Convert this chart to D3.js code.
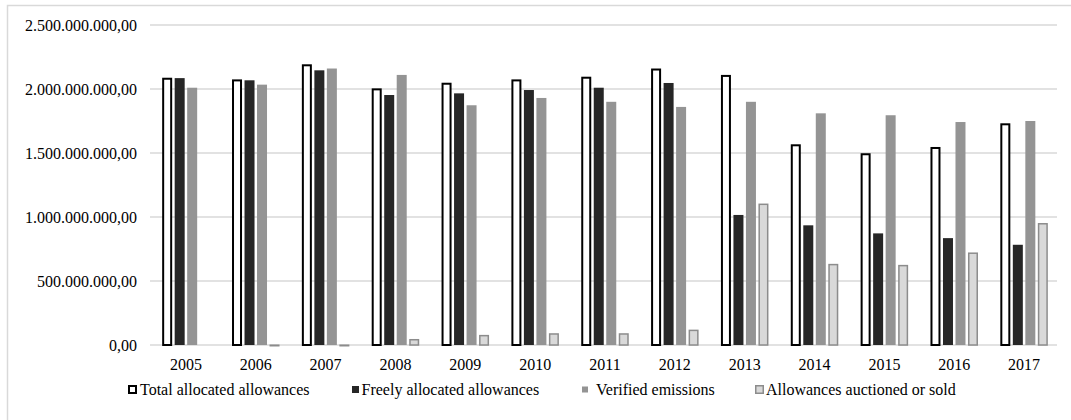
<!DOCTYPE html>
<html>
<head>
<meta charset="utf-8">
<script src="https://cdn.jsdelivr.net/npm/d3@7"></script>
<style>
  html, body { margin: 0; padding: 0; background: #fff; }
  svg { display: block; }
  svg text { font-family: 'Liberation Serif', 'DejaVu Serif', 'Times New Roman', Times, serif !important; }
</style>
</head>
<body>
<svg id="chart" width="1071" height="420"></svg>
<script>
// ---- data ----
const years = ["2005","2006","2007","2008","2009","2010","2011","2012","2013","2014","2015","2016","2017"];
const totalAllocated = [2.088e9, 2.075e9, 2.193e9, 2.005e9, 2.049e9, 2.075e9, 2.096e9, 2.160e9, 2.110e9, 1.568e9, 1.498e9, 1.547e9, 1.732e9];
const freelyAllocated = [2.085e9, 2.068e9, 2.146e9, 1.953e9, 1.966e9, 1.992e9, 2.010e9, 2.047e9, 1.016e9, 0.935e9, 0.872e9, 0.835e9, 0.783e9];
const verifiedEmissions = [2.010e9, 2.034e9, 2.160e9, 2.110e9, 1.873e9, 1.930e9, 1.900e9, 1.860e9, 1.900e9, 1.810e9, 1.795e9, 1.742e9, 1.750e9];
const auctionedSold = [0, 0.004e9, 0.004e9, 0.047e9, 0.079e9, 0.092e9, 0.092e9, 0.120e9, 1.105e9, 0.634e9, 0.626e9, 0.723e9, 0.953e9];
const seriesNames = ["Total allocated allowances", "Freely allocated allowances", "Verified emissions", "Allowances auctioned or sold"];
const yTicks = [0, 5e8, 1e9, 1.5e9, 2e9, 2.5e9];

const seriesValues = [totalAllocated, freelyAllocated, verifiedEmissions, auctionedSold];
const styles = [
  {fill: "#ffffff", stroke: "#000000", sw: 2},
  {fill: "#262626", stroke: "none", sw: 0},
  {fill: "#949494", stroke: "none", sw: 0},
  {fill: "#d9d9d9", stroke: "#8c8c8c", sw: 1.5}
];

const FONT = "'Liberation Serif', 'DejaVu Serif', serif";
const svg = d3.select("#chart");
const locale = d3.formatLocale({decimal: ",", thousands: ".", grouping: [3], currency: ["", ""]});
const fmt = locale.format(",.2f");

// chart border (light gray)
svg.append("path")
  .attr("d", "M7.5,420 L7.5,5.5 L1071,5.5")
  .attr("fill", "none").attr("stroke", "#d9d9d9").attr("stroke-width", 1.5);

const x0 = d3.scaleBand().domain(years).range([151, 1059]).paddingInner(0.284).paddingOuter(0.142);
const x1 = d3.scaleBand().domain(d3.range(4)).range([0, x0.bandwidth()]).paddingInner(0.2).paddingOuter(0.1);
const y = d3.scaleLinear().domain([0, 2.5e9]).range([345, 25]);

// gridlines
svg.append("g").selectAll("line").data(yTicks).join("line")
  .attr("x1", 150).attr("x2", 1057)
  .attr("y1", d => y(d)).attr("y2", d => y(d))
  .attr("stroke", "#d9d9d9").attr("stroke-width", 1.5);

// y labels
svg.append("g").selectAll("text").data(yTicks).join("text")
  .attr("x", 137).attr("y", d => y(d) + 5.5)
  .attr("text-anchor", "end")
  .style("font-family", FONT).style("font-size", "16px").attr("fill", "#000")
  .text(d => fmt(d));

// bars
const groups = svg.append("g").selectAll("g").data(years).join("g")
  .attr("transform", d => `translate(${x0(d)},0)`);
groups.selectAll("rect")
  .data((d, i) => seriesValues.map((vals, s) => ({s, v: vals[i]})))
  .join("rect")
  .filter(d => d.v > 0)
  .attr("x", d => x1(d.s) + styles[d.s].sw / 2)
  .attr("width", d => x1.bandwidth() - styles[d.s].sw)
  .attr("y", d => y(d.v) + styles[d.s].sw / 2)
  .attr("height", d => Math.max(0.5, y(0) - y(d.v) - styles[d.s].sw / 2))
  .attr("fill", d => styles[d.s].fill)
  .attr("stroke", d => styles[d.s].stroke)
  .attr("stroke-width", d => styles[d.s].sw);

// x labels
svg.append("g").selectAll("text").data(years).join("text")
  .attr("x", d => x0(d) + x0.bandwidth() / 2)
  .attr("y", 370)
  .attr("text-anchor", "middle")
  .style("font-family", FONT).style("font-size", "16px").attr("fill", "#000")
  .text(d => d);

// legend
const legendX = [128, 352, 582, 755];
const textX = [140, 361.5, 596, 766];
const markerSize = [9, 7, 6, 9];
const leg = svg.append("g");
seriesNames.forEach((name, i) => {
  const st = styles[i];
  const m = markerSize[i];
  leg.append("rect")
    .attr("x", legendX[i] + st.sw / 2).attr("y", 389.5 - m / 2 + st.sw / 2)
    .attr("width", m - st.sw).attr("height", m - st.sw)
    .attr("fill", st.fill).attr("stroke", st.stroke).attr("stroke-width", st.sw);
  leg.append("text")
    .attr("x", textX[i]).attr("y", 395)
    .style("font-family", FONT).style("font-size", "16px").attr("fill", "#000")
    .text(name);
});
</script>
</body>
</html>
